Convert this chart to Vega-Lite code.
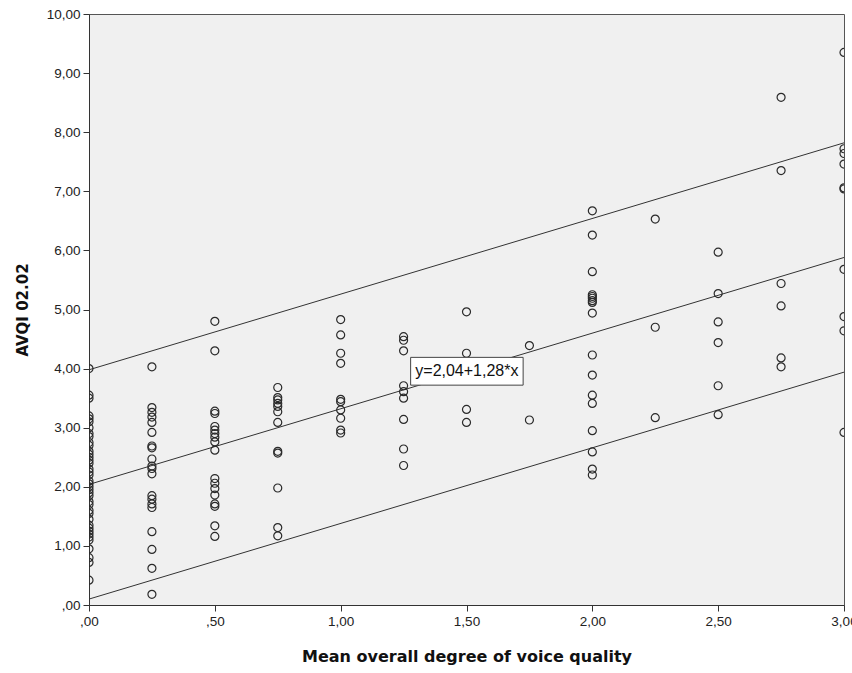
{
  "$schema": "https://vega.github.io/schema/vega-lite/v6.json",
  "autosize": {"type": "none"},
  "width": 755,
  "height": 591,
  "padding": {"left": 89, "top": 14, "right": 8, "bottom": 68},
  "background": "#ffffff",
  "config": {
    "view": {"fill": "#F0F0F0", "stroke": "#555555", "strokeWidth": 1},
    "font": "Liberation Sans",
    "axis": {
      "domainColor": "#333333",
      "tickColor": "#333333",
      "labelColor": "#222222",
      "labelFont": "Liberation Sans",
      "labelFontSize": 13.5,
      "titleFont": "DejaVu Sans",
      "titleFontWeight": "bold",
      "titleColor": "#111111",
      "grid": false,
      "tickSize": 6
    }
  },
  "datasets": {
    "points": [
      {"x": 0, "y": 4.0}, {"x": 0, "y": 3.55}, {"x": 0, "y": 3.5}, {"x": 0, "y": 3.2}, {"x": 0, "y": 3.15},
      {"x": 0, "y": 3.1}, {"x": 0, "y": 3.0}, {"x": 0, "y": 2.9}, {"x": 0, "y": 2.85}, {"x": 0, "y": 2.75},
      {"x": 0, "y": 2.7}, {"x": 0, "y": 2.6}, {"x": 0, "y": 2.55}, {"x": 0, "y": 2.5}, {"x": 0, "y": 2.45},
      {"x": 0, "y": 2.4}, {"x": 0, "y": 2.3}, {"x": 0, "y": 2.25}, {"x": 0, "y": 2.2}, {"x": 0, "y": 2.1},
      {"x": 0, "y": 2.05}, {"x": 0, "y": 2.0}, {"x": 0, "y": 1.95}, {"x": 0, "y": 1.9}, {"x": 0, "y": 1.85},
      {"x": 0, "y": 1.75}, {"x": 0, "y": 1.7}, {"x": 0, "y": 1.6}, {"x": 0, "y": 1.55}, {"x": 0, "y": 1.45},
      {"x": 0, "y": 1.35}, {"x": 0, "y": 1.3}, {"x": 0, "y": 1.25}, {"x": 0, "y": 1.2}, {"x": 0, "y": 1.15},
      {"x": 0, "y": 1.1}, {"x": 0, "y": 0.95}, {"x": 0, "y": 0.8}, {"x": 0, "y": 0.72}, {"x": 0, "y": 0.42},
      {"x": 0.25, "y": 4.03}, {"x": 0.25, "y": 3.34}, {"x": 0.25, "y": 3.26}, {"x": 0.25, "y": 3.18},
      {"x": 0.25, "y": 3.09}, {"x": 0.25, "y": 2.92}, {"x": 0.25, "y": 2.69}, {"x": 0.25, "y": 2.66},
      {"x": 0.25, "y": 2.47}, {"x": 0.25, "y": 2.35}, {"x": 0.25, "y": 2.31}, {"x": 0.25, "y": 2.22},
      {"x": 0.25, "y": 1.85}, {"x": 0.25, "y": 1.79}, {"x": 0.25, "y": 1.71}, {"x": 0.25, "y": 1.65},
      {"x": 0.25, "y": 1.24}, {"x": 0.25, "y": 0.94}, {"x": 0.25, "y": 0.62}, {"x": 0.25, "y": 0.18},
      {"x": 0.5, "y": 4.8}, {"x": 0.5, "y": 4.3}, {"x": 0.5, "y": 3.28}, {"x": 0.5, "y": 3.24},
      {"x": 0.5, "y": 3.02}, {"x": 0.5, "y": 2.96}, {"x": 0.5, "y": 2.9}, {"x": 0.5, "y": 2.84},
      {"x": 0.5, "y": 2.76}, {"x": 0.5, "y": 2.62}, {"x": 0.5, "y": 2.14}, {"x": 0.5, "y": 2.06},
      {"x": 0.5, "y": 1.97}, {"x": 0.5, "y": 1.86}, {"x": 0.5, "y": 1.71}, {"x": 0.5, "y": 1.67},
      {"x": 0.5, "y": 1.34}, {"x": 0.5, "y": 1.16},
      {"x": 0.75, "y": 3.68}, {"x": 0.75, "y": 3.51}, {"x": 0.75, "y": 3.47}, {"x": 0.75, "y": 3.41},
      {"x": 0.75, "y": 3.36}, {"x": 0.75, "y": 3.27}, {"x": 0.75, "y": 3.09}, {"x": 0.75, "y": 2.6},
      {"x": 0.75, "y": 2.57}, {"x": 0.75, "y": 1.98}, {"x": 0.75, "y": 1.31}, {"x": 0.75, "y": 1.17},
      {"x": 1.0, "y": 4.83}, {"x": 1.0, "y": 4.57}, {"x": 1.0, "y": 4.26}, {"x": 1.0, "y": 4.09},
      {"x": 1.0, "y": 3.48}, {"x": 1.0, "y": 3.44}, {"x": 1.0, "y": 3.3}, {"x": 1.0, "y": 3.16},
      {"x": 1.0, "y": 2.96}, {"x": 1.0, "y": 2.91},
      {"x": 1.25, "y": 4.54}, {"x": 1.25, "y": 4.48}, {"x": 1.25, "y": 4.3}, {"x": 1.25, "y": 3.71},
      {"x": 1.25, "y": 3.61}, {"x": 1.25, "y": 3.5}, {"x": 1.25, "y": 3.14}, {"x": 1.25, "y": 2.64},
      {"x": 1.25, "y": 2.36},
      {"x": 1.5, "y": 4.96}, {"x": 1.5, "y": 4.26}, {"x": 1.5, "y": 3.31}, {"x": 1.5, "y": 3.09},
      {"x": 1.75, "y": 4.39}, {"x": 1.75, "y": 3.13},
      {"x": 2.0, "y": 6.67}, {"x": 2.0, "y": 6.26}, {"x": 2.0, "y": 5.64}, {"x": 2.0, "y": 5.25},
      {"x": 2.0, "y": 5.22}, {"x": 2.0, "y": 5.19}, {"x": 2.0, "y": 5.15}, {"x": 2.0, "y": 5.12},
      {"x": 2.0, "y": 4.94}, {"x": 2.0, "y": 4.23}, {"x": 2.0, "y": 3.89}, {"x": 2.0, "y": 3.55},
      {"x": 2.0, "y": 3.41}, {"x": 2.0, "y": 2.95}, {"x": 2.0, "y": 2.59}, {"x": 2.0, "y": 2.3},
      {"x": 2.0, "y": 2.2},
      {"x": 2.25, "y": 6.53}, {"x": 2.25, "y": 4.7}, {"x": 2.25, "y": 3.17},
      {"x": 2.5, "y": 5.97}, {"x": 2.5, "y": 5.27}, {"x": 2.5, "y": 4.79}, {"x": 2.5, "y": 4.44},
      {"x": 2.5, "y": 3.71}, {"x": 2.5, "y": 3.22},
      {"x": 2.75, "y": 8.59}, {"x": 2.75, "y": 7.35}, {"x": 2.75, "y": 5.44}, {"x": 2.75, "y": 5.06},
      {"x": 2.75, "y": 4.18}, {"x": 2.75, "y": 4.03},
      {"x": 3.0, "y": 9.35}, {"x": 3.0, "y": 7.72}, {"x": 3.0, "y": 7.64}, {"x": 3.0, "y": 7.46},
      {"x": 3.0, "y": 7.06}, {"x": 3.0, "y": 7.04}, {"x": 3.0, "y": 5.68}, {"x": 3.0, "y": 4.88},
      {"x": 3.0, "y": 4.64}, {"x": 3.0, "y": 2.92}
    ],
    "lines": [
      {"line": "upper", "x": 0, "y": 3.98}, {"line": "upper", "x": 3, "y": 7.82},
      {"line": "fit", "x": 0, "y": 2.04}, {"line": "fit", "x": 3, "y": 5.88},
      {"line": "lower", "x": 0, "y": 0.1}, {"line": "lower", "x": 3, "y": 3.94}
    ],
    "label": [
      {"x": 1.278, "x2": 1.725, "y": 4.19, "y2": 3.72, "tx": 1.5015, "ty": 3.955, "text": "y=2,04+1,28*x"}
    ]
  },
  "layer": [
    {
      "data": {"name": "lines"},
      "mark": {"type": "line", "color": "#333333", "strokeWidth": 1, "clip": true},
      "encoding": {
        "x": {
          "field": "x", "type": "quantitative",
          "scale": {"domain": [0, 3], "nice": false, "zero": false},
          "axis": {
            "values": [0, 0.5, 1, 1.5, 2, 2.5, 3],
            "labelExpr": "datum.value < 1 ? slice(replace(format(datum.value, '.2f'), '.', ','), 1) : replace(format(datum.value, '.2f'), '.', ',')",
            "title": "Mean overall degree of voice quality",
            "titleFontSize": 16,
            "labelPadding": 3,
            "titlePadding": 21,
            "labelFlush": false,
            "labelOverlap": false
          }
        },
        "y": {
          "field": "y", "type": "quantitative",
          "scale": {"domain": [0, 10], "nice": false, "zero": false},
          "axis": {
            "values": [0, 1, 2, 3, 4, 5, 6, 7, 8, 9, 10],
            "labelExpr": "datum.value < 1 ? slice(replace(format(datum.value, '.2f'), '.', ','), 1) : replace(format(datum.value, '.2f'), '.', ',')",
            "title": "AVQI 02.02",
            "titleFontSize": 15,
            "labelPadding": 3,
            "titlePadding": 16,
            "labelFlush": false,
            "labelOverlap": false
          }
        },
        "detail": {"field": "line", "type": "nominal"}
      }
    },
    {
      "data": {"name": "points"},
      "mark": {"type": "point", "shape": "circle", "filled": false, "size": 64, "stroke": "#2a2a2a", "strokeWidth": 1.2, "opacity": 1, "clip": true},
      "encoding": {
        "x": {"field": "x", "type": "quantitative"},
        "y": {"field": "y", "type": "quantitative"}
      }
    },
    {
      "data": {"name": "label"},
      "mark": {"type": "rect", "fill": "#ffffff", "stroke": "#444444", "strokeWidth": 1},
      "encoding": {
        "x": {"field": "x", "type": "quantitative"},
        "x2": {"field": "x2"},
        "y": {"field": "y", "type": "quantitative"},
        "y2": {"field": "y2"}
      }
    },
    {
      "data": {"name": "label"},
      "mark": {"type": "text", "font": "Liberation Sans", "fontSize": 16, "color": "#111111", "align": "center", "baseline": "middle"},
      "encoding": {
        "x": {"field": "tx", "type": "quantitative"},
        "y": {"field": "ty", "type": "quantitative"},
        "text": {"field": "text"}
      }
    }
  ]
}
